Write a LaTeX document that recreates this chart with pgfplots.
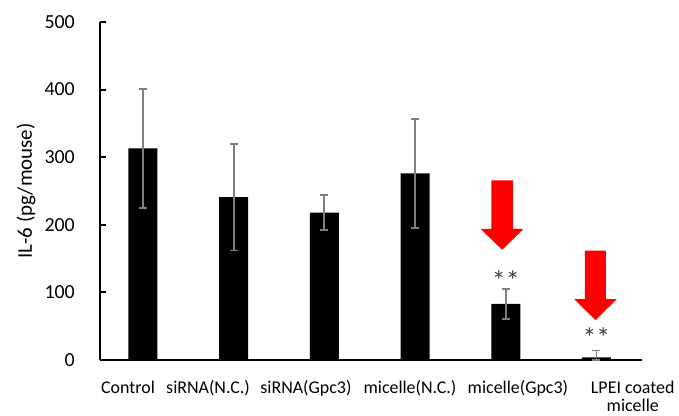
\documentclass[border=0pt]{standalone}
\usepackage{pgfplots}
\pgfplotsset{compat=1.18}
\usepackage{fontspec}
\setmainfont{Carlito}
\definecolor{errgray}{HTML}{7F7F7F}
\definecolor{astgray}{HTML}{404040}
\newcommand{\lpeilabel}{\vtop{\baselineskip=18bp\halign{\hfil##\hfil\cr LPEI coated\cr micelle\cr}}}
\begin{document}
\begin{tikzpicture}
\useasboundingbox (-100bp,-56bp) rectangle (579bp,360bp);
\begin{axis}[
  at={(0,0)}, anchor=south west,
  scale only axis,
  width=542bp, height=338bp,
  xmin=-0.474, xmax=5.502,
  ymin=0, ymax=500,
  axis y line*=left, axis x line*=bottom,
  axis line style={line width=2bp, black},
  ytick={0,100,200,300,400,500},
  tick align=inside,
  major tick length=6bp,
  ytick style={line width=2bp, black},
  xtick style={draw=none},
  /pgf/number format/assume math mode=true,
  yticklabel style={font=\fontsize{20}{24}\selectfont, anchor=east, inner sep=0pt, xshift=-25bp},
  xtick={-0.165,0.717,1.797,2.944,4.134,5.40},
  xticklabels={Control,siRNA(N.C.),siRNA(Gpc3),micelle(N.C.),micelle(Gpc3),{\lpeilabel}},
  xticklabel style={font=\fontsize{18}{21.4}\selectfont, anchor=base, inner sep=0pt, yshift=-33.5bp},
  ylabel={IL-6 (pg/mouse)},
  every axis y label/.style={at={(-74bp,169bp)}, rotate=90, anchor=center, font=\fontsize{21}{24}\selectfont},
  clip=false,
]
\addplot[ybar, bar width=29bp, fill=black, draw=none,
  error bars/.cd, y dir=both, y explicit,
  error bar style={line width=1.8bp, draw=errgray},
  error mark options={line width=1.8bp, draw=errgray, mark size=4bp, rotate=90}]
  coordinates {
  (0,313) +- (0,88)
  (1,241) +- (0,79)
  (2,218) +- (0,26)
  (3,276) +- (0,81)
  (4,83) +- (0,22)
  (5,4) += (0,10) -= (0,4)
  };
\fill[red] (axis cs:3.841,265.6) -- (axis cs:4.079,265.6) -- (axis cs:4.079,194) -- (axis cs:4.197,194)
  -- (axis cs:3.96,163) -- (axis cs:3.723,194) -- (axis cs:3.841,194) -- cycle;
\fill[red] (axis cs:4.873,161.7) -- (axis cs:5.105,161.7) -- (axis cs:5.105,90) -- (axis cs:5.223,90)
  -- (axis cs:4.989,59) -- (axis cs:4.755,90) -- (axis cs:4.873,90) -- cycle;
\node[font=\fontsize{28}{30}\selectfont, text=astgray, inner sep=0pt] at (axis cs:4,118) {**};
\node[font=\fontsize{28}{30}\selectfont, text=astgray, inner sep=0pt] at (axis cs:5,33.6) {**};
\end{axis}
\end{tikzpicture}
\end{document}
